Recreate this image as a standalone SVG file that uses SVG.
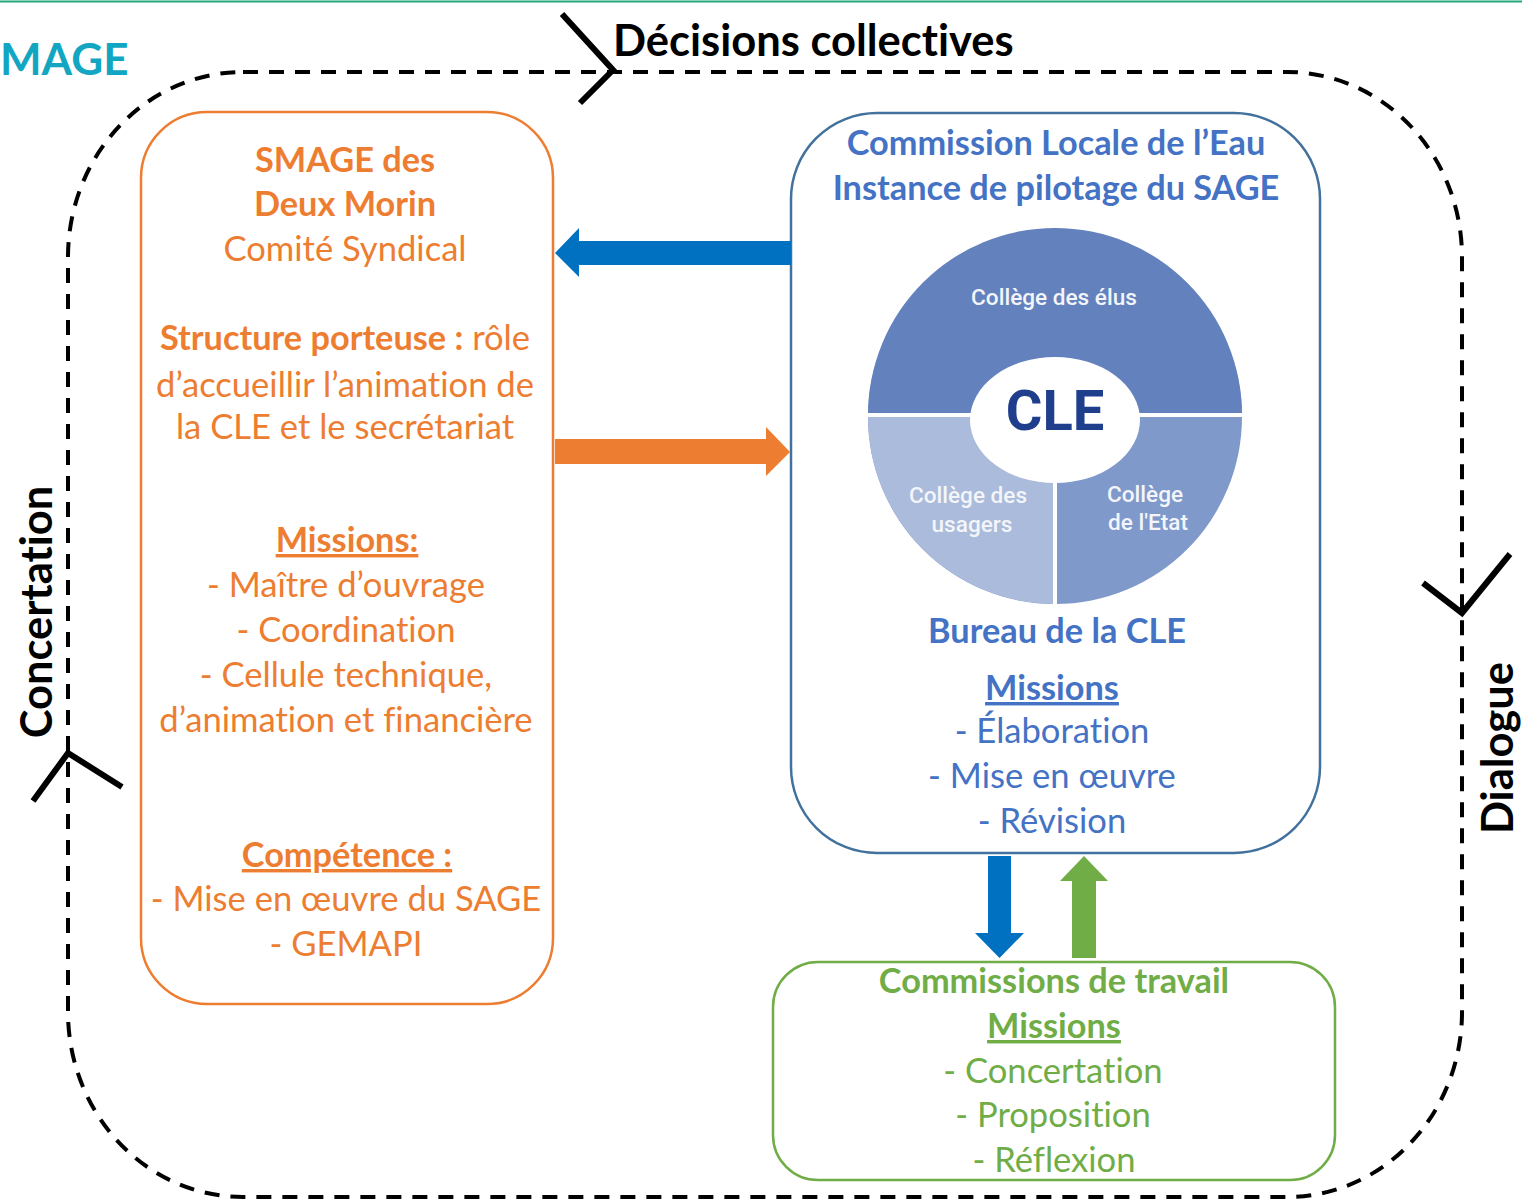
<svg xmlns="http://www.w3.org/2000/svg" width="1522" height="1201" viewBox="0 0 1522 1201">
<style>
  text { font-family: Lato, "Noto Sans", "Liberation Sans", sans-serif; font-variant-ligatures: none; }
  .or { fill: #ED7D31; }
  .bl { fill: #4472C4; }
  .gr { fill: #70AD47; }
  .b { font-weight: 700; }
  .t { font-size: 34.6px; text-anchor: middle; }
  .h { font-size: 34.3px; font-weight: 700; text-anchor: middle; }
  .u { text-decoration: underline; }
  .big { font-size: 43.5px; font-weight: 700; fill: #000; }
  .chev { fill: none; stroke: #000; stroke-width: 6; stroke-linejoin: miter; stroke-linecap: butt; }
  .col { font-family: Roboto, "Liberation Sans", sans-serif; font-weight: 500; font-size: 22.6px; fill: #F3F5F9; text-anchor: middle; }
</style>
<rect x="0" y="0" width="1522" height="1201" fill="#FFFFFF"/>
<line x1="0" y1="1.5" x2="1522" y2="1.5" stroke="#22A67A" stroke-width="2"/>
<text x="0" y="75" style="font-family: Lato, 'Liberation Sans', sans-serif; font-weight:700; font-size:44px; fill:#12A6C2;">MAGE</text>

<g id="cycle">
  <rect x="68" y="72" width="1394" height="1125" rx="175" ry="185" fill="none" stroke="#000" stroke-width="4" stroke-dasharray="15 11"/>
  <polyline class="chev" points="562,14 613,70 580,103"/>
  <polyline class="chev" points="33,801 68,753 122,787"/>
  <polyline class="chev" points="1423,583 1462,613 1510,554"/>
  <text class="big" x="613" y="56">Décisions collectives</text>
  <text class="big" text-anchor="middle" transform="translate(52,612) rotate(-90)">Concertation</text>
  <text class="big" text-anchor="middle" transform="translate(1513,748) rotate(-90)">Dialogue</text>
</g>

<g id="smage">
  <rect x="141" y="112" width="412" height="892" rx="66" ry="66" fill="none" stroke="#ED7D31" stroke-width="2.5"/>
  <text class="or h" x="345" y="172">SMAGE des</text>
  <text class="or h" x="345" y="216">Deux Morin</text>
  <text class="or t" x="345" y="261">Comité Syndical</text>
  <text class="or t" x="345" y="350"><tspan class="b" style="font-size:34.3px">Structure porteuse :</tspan> rôle</text>
  <text class="or t" x="345" y="397">d’accueillir l’animation de</text>
  <text class="or t" x="345" y="439">la CLE et le secrétariat</text>
  <text class="or h u" x="347" y="552">Missions:</text>
  <text class="or t" x="346" y="597">- Maître d’ouvrage</text>
  <text class="or t" x="346" y="642">- Coordination</text>
  <text class="or t" x="346" y="687">- Cellule technique,</text>
  <text class="or t" x="346" y="732">d’animation et financière</text>
  <text class="or h u" x="347" y="867">Compétence :</text>
  <text class="or t" x="346" y="911">- Mise en œuvre du SAGE</text>
  <text class="or t" x="346" y="956">- GEMAPI</text>
</g>

<g id="cle">
  <rect x="791" y="113" width="529" height="740" rx="86" ry="86" fill="none" stroke="#41719C" stroke-width="2.5"/>
  <text class="bl h" x="1056" y="155">Commission Locale de l’Eau</text>
  <text class="bl h" x="1056" y="200">Instance de pilotage du SAGE</text>
  <g id="cle-circle">
    <circle cx="1055" cy="417" r="187" fill="#7F99CB"/>
    <path d="M868,415 A187,187 0 0 1 1242,415 Z" fill="#6281BD"/>
    <path d="M1055,415 L868,415 A187,187 0 0 0 1055,604 Z" fill="#AABBDB"/>
    <line x1="862" y1="415" x2="1248" y2="415" stroke="#FFFFFF" stroke-width="4"/>
    <line x1="1055" y1="415" x2="1055" y2="608" stroke="#FFFFFF" stroke-width="4"/>
    <ellipse cx="1055" cy="420" rx="85" ry="63" fill="#FFFFFF"/>
    <text x="1055" y="430" text-anchor="middle" style="font-family: Roboto, 'Liberation Sans', sans-serif; font-weight:700; font-size:56px; fill:#1F3E8C;">CLE</text>
    <text class="col" x="1054" y="305">Collège des élus</text>
    <text class="col" x="968" y="503">Collège des</text>
    <text class="col" x="972" y="532">usagers</text>
    <text class="col" x="1145" y="502">Collège</text>
    <text class="col" x="1148" y="530">de l'Etat</text>
  </g>
  <text class="bl h" x="1057" y="643">Bureau de la CLE</text>
  <text class="bl h u" x="1052" y="700">Missions</text>
  <text class="bl t" x="1052" y="743">- Élaboration</text>
  <text class="bl t" x="1052" y="788">- Mise en œuvre</text>
  <text class="bl t" x="1052" y="833">- Révision</text>
</g>

<g id="commissions">
  <rect x="773" y="962" width="562" height="218" rx="45" ry="45" fill="none" stroke="#70AD47" stroke-width="2.5"/>
  <text class="gr h" x="1054" y="993">Commissions de travail</text>
  <text class="gr h u" x="1054" y="1038">Missions</text>
  <text class="gr t" x="1053" y="1083">- Concertation</text>
  <text class="gr t" x="1053" y="1127">- Proposition</text>
  <text class="gr t" x="1054" y="1172">- Réflexion</text>
</g>

<g id="connectors">
  <polygon points="791,241 579,241 579,228 555,253 579,277 579,265 791,265" fill="#0070C0"/>
  <polygon points="555,439 766,439 766,427 790,452 766,476 766,464 555,464" fill="#ED7D31"/>
  <polygon points="988,856 1011,856 1011,933 1024,933 999.5,958 975,933 988,933" fill="#0070C0"/>
  <polygon points="1072,958 1096,958 1096,881 1108,881 1084,856 1060,881 1072,881" fill="#70AD47"/>
</g>
</svg>
